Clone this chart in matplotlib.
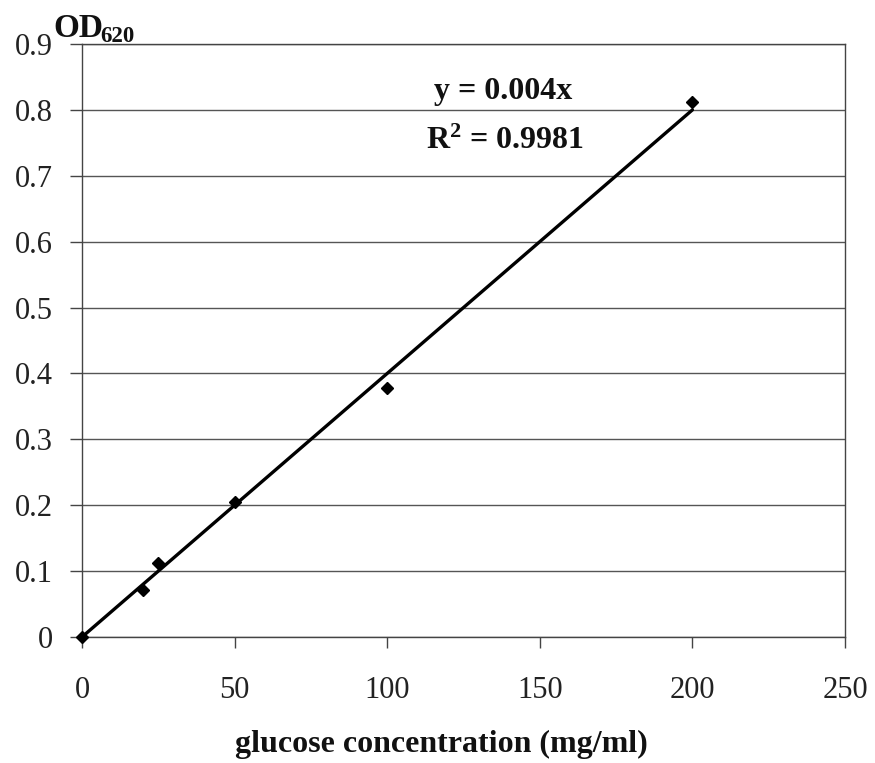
import matplotlib
matplotlib.use("Agg")
import matplotlib.pyplot as plt
import numpy as np

# Data
conc = [0, 20, 25, 50, 100, 200]
od620 = [0.0, 0.072, 0.112, 0.205, 0.378, 0.812]
slope = 0.004
fit_x = [0, 200]
x_ticks = [0, 50, 100, 150, 200, 250]
y_ticks = [0, 0.1, 0.2, 0.3, 0.4, 0.5, 0.6, 0.7, 0.8, 0.9]
y_tick_labels = ["0", "0.1", "0.2", "0.3", "0.4", "0.5", "0.6", "0.7", "0.8", "0.9"]
eq_text = "y = 0.004x"
r2_text = r"$\mathbf{R^{2}}$ = 0.9981"
x_label = "glucose concentration (mg/ml)"

plt.rcParams['font.family'] = ['Liberation Serif', 'DejaVu Serif']
plt.rcParams['mathtext.fontset'] = 'custom'
plt.rcParams['mathtext.rm'] = 'Liberation Serif'
plt.rcParams['mathtext.bf'] = 'Liberation Serif:bold'
plt.rcParams['mathtext.it'] = 'Liberation Serif:italic'

W, H = 875, 763
fig = plt.figure(figsize=(W / 100, H / 100), dpi=100)
ax = fig.add_axes([82 / W, 1 - 637 / H, (845 - 82) / W, (637 - 44) / H])

ax.set_xlim(0, 250)
ax.set_ylim(0, 0.9)

ax.yaxis.grid(True, color='#555555', linewidth=1.0)
ax.set_axisbelow(True)

fx = np.array(fit_x, dtype=float)
ax.plot(fx, slope * fx, color='black', linewidth=2.4, solid_capstyle='round', zorder=3)
ax.plot(conc, od620, linestyle='none', marker='D', markersize=6.5, color='black',
        zorder=4, clip_on=False)

ax.set_xticks(x_ticks)
ax.set_xticklabels([str(v) for v in x_ticks])
ax.set_yticks(y_ticks)
ax.set_yticklabels(y_tick_labels)

ax.tick_params(axis='x', direction='out', length=8, width=1, colors='#444444',
               labelcolor='#222222', labelsize=22, pad=20)
ax.tick_params(axis='y', direction='out', length=9, width=1, colors='#444444',
               labelcolor='#222222', labelsize=22, pad=12)

for sp in ax.spines.values():
    sp.set_color('#444444')
    sp.set_linewidth(1.0)

# Axis title (OD620) drawn at top left
fig.text(53 / W, 1 - 37 / H, "OD", fontsize=24, fontweight='bold', va='baseline', ha='left', color='#111111')
fig.text(100 / W, 1 - 42 / H, "620", fontsize=16.5, fontweight='bold', va='baseline', ha='left', color='#111111')

# Equation annotation
fig.text(503 / W, 1 - 99 / H, eq_text, fontsize=23, fontweight='bold', ha='center', va='baseline', color='#111111')
fig.text(505 / W, 1 - 149 / H, r2_text, fontsize=23, fontweight='bold', ha='center', va='baseline', color='#111111')

fig.text(441 / W, 1 - 752 / H, x_label, fontsize=23, fontweight='bold', ha='center', va='baseline', color='#111111')

fig.savefig("out.png", dpi=100)
